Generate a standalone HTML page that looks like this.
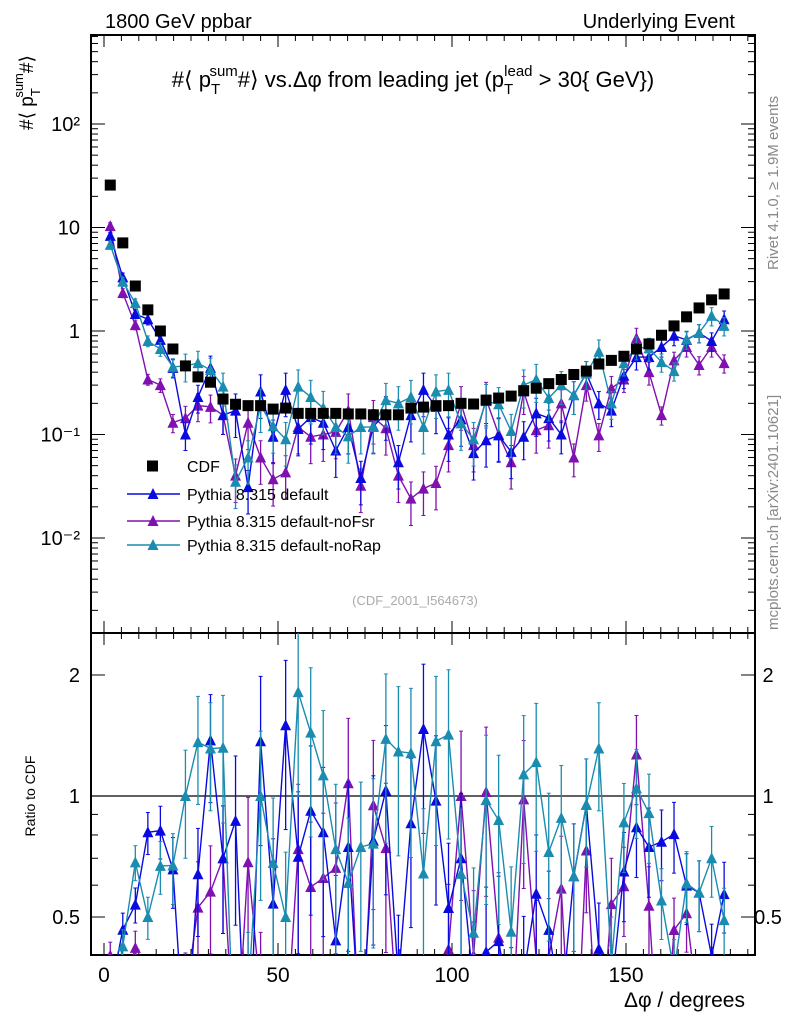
<!DOCTYPE html>
<html><head><meta charset="utf-8"><style>
html,body{margin:0;padding:0;background:#fff;overflow:hidden;width:786px;height:1024px;}
svg{display:block;font-family:"Liberation Sans",sans-serif;}
</style></head><body>
<svg id="c" width="786" height="1024" xmlns="http://www.w3.org/2000/svg">
<defs>
<clipPath id="cm"><rect x="91" y="35" width="664" height="598"/></clipPath>
<clipPath id="cr"><rect x="91" y="633" width="664" height="322"/></clipPath>
</defs>
<text x="105" y="28" font-size="20">1800 GeV ppbar</text>
<text x="735" y="28" font-size="20" text-anchor="end">Underlying Event</text>
<text x="413" y="87" font-size="22" text-anchor="middle">#⟨ p<tspan font-size="15" dy="7">T</tspan><tspan font-size="15" dx="-9" dy="-18">sum</tspan><tspan dy="11">#⟩ vs.Δφ from leading jet  (p</tspan><tspan font-size="15" dy="7">T</tspan><tspan font-size="15" dx="-9" dy="-18">lead</tspan><tspan dy="11"> &gt; 30{ GeV})</tspan></text>
<g transform="translate(33,130) rotate(-90)"><text font-size="19">#⟨ p<tspan font-size="13" dy="7">T</tspan><tspan font-size="13" dx="-8" dy="-17">sum</tspan><tspan dy="10">#⟩</tspan></text></g>
<text transform="translate(35,796) rotate(-90)" font-size="14" text-anchor="middle">Ratio to CDF</text>
<text transform="translate(778,270) rotate(-90)" font-size="15" fill="#888">Rivet 4.1.0, ≥ 1.9M events</text>
<text transform="translate(778,630) rotate(-90)" font-size="15" fill="#888">mcplots.cern.ch [arXiv:2401.10621]</text>
<text x="415" y="605" font-size="13" fill="#aaa" text-anchor="middle">(CDF_2001_I564673)</text>
<text x="745" y="1007" font-size="21" text-anchor="end">Δφ / degrees</text>
<g id="g"></g>
</svg>
<script>
const cdf=[25.7,7.1,2.72,1.6,1.0,0.67,0.46,0.36,0.32,0.22,0.196,0.19,0.19,0.176,0.18,0.16,0.16,0.16,0.16,0.158,0.158,0.155,0.155,0.155,0.18,0.184,0.19,0.19,0.2,0.197,0.215,0.225,0.235,0.265,0.28,0.31,0.34,0.38,0.41,0.48,0.52,0.57,0.67,0.75,0.91,1.12,1.37,1.67,2.0,2.28];
const pyDefault=[8.3,3.3,1.46,1.3,0.82,0.44,0.1,0.23,0.44,0.154,0.17,0.031,0.26,0.095,0.27,0.113,0.147,0.13,0.07,0.118,0.038,0.12,0.16,0.054,0.154,0.27,0.185,0.1,0.14,0.066,0.088,0.098,0.068,0.095,0.16,0.144,0.1,0.24,0.39,0.2,0.17,0.37,0.56,0.56,0.7,0.9,0.82,0.96,0.8,1.3];
const pyNoFsr=[10.3,2.33,1.14,0.34,0.3,0.13,0.144,0.19,0.185,0.154,0.04,0.13,0.06,0.037,0.043,0.118,0.095,0.1,0.106,0.17,0.032,0.147,0.115,0.04,0.024,0.03,0.034,0.079,0.2,0.079,0.22,0.1,0.054,0.26,0.11,0.123,0.2,0.06,0.3,0.098,0.28,0.34,0.85,0.4,0.154,0.52,0.7,0.47,0.7,0.49];
const pyNoRap=[6.8,3.0,1.86,0.8,0.67,0.45,0.46,0.49,0.42,0.29,0.035,0.06,0.19,0.12,0.09,0.29,0.23,0.18,0.118,0.096,0.118,0.118,0.215,0.2,0.23,0.118,0.26,0.27,0.128,0.09,0.21,0.196,0.108,0.3,0.34,0.225,0.3,0.24,0.39,0.63,0.2,0.49,0.7,0.68,0.5,0.41,0.83,0.96,1.4,1.12];
const relErr=[0.08,0.1,0.1,0.12,0.15,0.2,0.3,0.3,0.3,0.35,0.45,0.45,0.45,0.45,0.45,0.45,0.45,0.45,0.45,0.45,0.45,0.45,0.45,0.45,0.45,0.45,0.45,0.45,0.45,0.45,0.45,0.45,0.45,0.4,0.4,0.4,0.35,0.35,0.3,0.3,0.3,0.25,0.25,0.25,0.2,0.2,0.2,0.2,0.2,0.2];
const binWidth=3.6;
const mainTicks=["10²","10","1","10⁻¹","10⁻²"], mainTickVals=[100,10,1,0.1,0.01];
const ratioTicks=["2","1","0.5"], ratioTickVals=[2,1,0.5];
const xTicks=[0,50,100,150];
const NS="http://www.w3.org/2000/svg";
const g=document.getElementById('g');
const X=d=>104+d*3.48;
const Y=v=>331-103.5*Math.log10(v);
const R=v=>796-402*Math.log10(v);
function el(t,a,p){const e=document.createElementNS(NS,t);for(const k in a)e.setAttribute(k,a[k]);(p||g).appendChild(e);return e;}
let f=el('rect',{x:91,y:35,width:664,height:598,fill:'none',stroke:'#000','stroke-width':2});


f=el('rect',{x:91,y:633,width:664,height:322,fill:'none',stroke:'#000','stroke-width':2});


for(let d=0;d<=185;d+=5){const maj=d%50===0;const L=maj?12:6;const x=X(d);
 [[35,1],[633,-1],[633,1],[955,-1]].forEach(([y0,s])=>el('line',{x1:x,x2:x,y1:y0,y2:y0+s*L,stroke:'#000','stroke-width':1}));}
xTicks.forEach(d=>{const t=el('text',{x:X(d),y:982,'font-size':21,'text-anchor':'middle'});t.textContent=d;
 
 });
for(let e=-3;e<3;e++)for(let m=1;m<10;m++){const v=m*Math.pow(10,e);const y=Y(v);if(y<35||y>633)continue;const L=m===1?14:7;
 el('line',{x1:91,x2:91+L,y1:y,y2:y,stroke:'#000'});el('line',{x1:755,x2:755-L,y1:y,y2:y,stroke:'#000'});}
mainTicks.forEach((s,i)=>{const t=el('text',{x:80,y:Y(mainTickVals[i])+7,'font-size':20,'text-anchor':'end'});t.textContent=s;
 
 });
[0.5,0.6,0.7,0.8,0.9,1,2].forEach(v=>{const y=R(v);const L=(v===1||v===2||v===0.5)?14:7;
 el('line',{x1:91,x2:91+L,y1:y,y2:y,stroke:'#000'});el('line',{x1:755,x2:755-L,y1:y,y2:y,stroke:'#000'});});
ratioTicks.forEach((s,i)=>{const y=R(ratioTickVals[i])+7;
 let t=el('text',{x:80,y:y,'font-size':20,'text-anchor':'end'});t.textContent=s;
 
 
 t=el('text',{x:768,y:y,'font-size':20,'text-anchor':'middle'});t.textContent=s;
 
 });
let ln=el('line',{x1:91,x2:755,y1:R(1),y2:R(1),stroke:'#000','stroke-width':1.2});


const gm=el('g',{'clip-path':'url(#cm)'}), gr=el('g',{'clip-path':'url(#cr)'});
function tri(x,y,c,p,n){const t=el('polygon',{points:`${x},${y-6} ${x-5.5},${y+5} ${x+5.5},${y+5}`,fill:c},p);
 
 }
function series(vals,col,name){
 let pm='',pr='';
 vals.forEach((v,i)=>{const x=X((i+0.5)*binWidth);const e=v*relErr[i];const r=v/cdf[i];
  pm+=(i?'L':'M')+x+','+Y(v);pr+=(i?'L':'M')+x+','+R(r);
  [[gm,Y,v,e],[gr,R,r,r*relErr[i]]].forEach(([p,F,c,ee])=>{const lo=Math.max(c-ee,1e-5);
   el('line',{x1:x,x2:x,y1:F(c+ee),y2:F(lo),stroke:col,'stroke-width':1.3},p);
   el('line',{x1:x-2,x2:x+2,y1:F(c+ee),y2:F(c+ee),stroke:col},p);
   el('line',{x1:x-2,x2:x+2,y1:F(lo),y2:F(lo),stroke:col},p);});
 });
 let l=el('path',{d:pm,fill:'none',stroke:col,'stroke-width':1.4},gm);
 
 
 l=el('path',{d:pr,fill:'none',stroke:col,'stroke-width':1.4},gr);
 
 
 vals.forEach((v,i)=>{const x=X((i+0.5)*binWidth);tri(x,Y(v),col,gm,name+'-point');tri(x,R(v/cdf[i]),col,gr,name+'-ratio-point');});
}
series(pyNoFsr,'#8010b0','pythia-nofsr');
series(pyDefault,'#0a0ae0','pythia-default');
series(pyNoRap,'#1a8cb0','pythia-norap');
cdf.forEach((v,i)=>{const x=X((i+0.5)*binWidth);const r=el('rect',{x:x-5.5,y:Y(v)-5.5,width:11,height:11,fill:'#000'},gm);
 
 });
const leg=[['CDF','#000','sq'],['Pythia 8.315 default','#0a0ae0','tr'],['Pythia 8.315 default-noFsr','#8010b0','tr'],['Pythia 8.315 default-noRap','#1a8cb0','tr']];
const legY=[466,494,521,545];
leg.forEach((e,i)=>{const y=legY[i];
 if(e[2]==='sq'){const r=el('rect',{x:147,y:y-5.5,width:11,height:11,fill:'#000'});}
 else{el('line',{x1:127,x2:180,y1:y,y2:y,stroke:e[1],'stroke-width':1.4});tri(153,y,e[1],g,'legend-marker');}
 const t=el('text',{x:187,y:y+6,'font-size':16});t.textContent=e[0];
 
 });
</script>
</body></html>
